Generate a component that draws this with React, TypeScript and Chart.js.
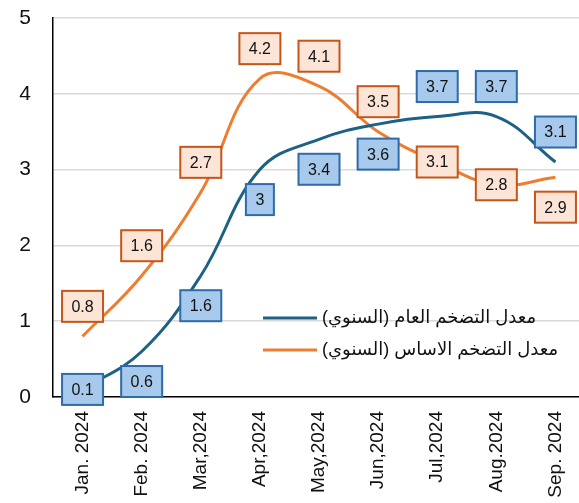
import React, { useEffect, useRef } from 'react';
import { Chart, registerables } from 'chart.js';

Chart.register(...registerables);

const categories = ['Jan. 2024', 'Feb. 2024', 'Mar,2024', 'Apr,2024', 'May,2024', 'Jun,2024', 'Jul,2024', 'Aug.2024', 'Sep. 2024'];
const headline = [0.1, 0.6, 1.6, 3, 3.4, 3.6, 3.7, 3.7, 3.1];
const core = [0.8, 1.6, 2.7, 4.2, 4.1, 3.5, 3.1, 2.8, 2.9];
const headlineLabelPos = ['center', 'below', 'below', 'below', 'below', 'below', 'above', 'above', 'above'];
const coreLabelPos = ['above', 'above', 'above', 'above', 'above', 'above', 'center', 'center', 'below'];
const seriesNames = ['معدل التضخم العام (السنوي)', 'معدل التضخم الاساس (السنوي)'];
const yMin = 0;
const yMax = 5;
const yStep = 1;

const BLUE = '#1d6184';
const ORANGE = '#ed7d31';
const boxStyles = [
  { fill: '#a6c9ec', border: '#2e6ba8' },
  { fill: '#fce4d6', border: '#c5561a' },
];
const positions = [headlineLabelPos, coreLabelPos];
const FONT = '"Liberation Sans", Arial, "DejaVu Sans", sans-serif';

const labelPlugin = {
  id: 'boxLabels',
  afterDatasetsDraw(chart: any) {
    const ctx = chart.ctx;
    ctx.save();
    ctx.font = `16px ${FONT}`;
    chart.data.datasets.forEach((ds: any, i: number) => {
      const meta = chart.getDatasetMeta(i);
      const st = boxStyles[i];
      const pos = positions[i];
      meta.data.forEach((pt: any, j: number) => {
        const off = pos[j] === 'above' ? -30 : pos[j] === 'below' ? 30 : 0;
        const x = pt.x;
        const y = pt.y + off;
        const txt = String(ds.data[j]);
        const tw = ctx.measureText(txt).width;
        const w = Math.round(tw + 19);
        const h = 31;
        ctx.fillStyle = st.fill;
        ctx.fillRect(x - w / 2, y - h / 2, w, h);
        ctx.strokeStyle = st.border;
        ctx.lineWidth = 2;
        ctx.strokeRect(x - w / 2, y - h / 2, w, h);
        ctx.fillStyle = '#111';
        ctx.textAlign = 'center';
        ctx.textBaseline = 'middle';
        ctx.fillText(txt, x, y + 1);
      });
    });
    ctx.restore();
  },
};

const legendPlugin = {
  id: 'insideLegend',
  afterDraw(chart: any) {
    const ctx = chart.ctx;
    const colors = [BLUE, ORANGE];
    ctx.save();
    ctx.font = `18px ${FONT}`;
    ctx.direction = 'rtl';
    ctx.textAlign = 'left';
    ctx.textBaseline = 'middle';
    seriesNames.forEach((name, i) => {
      const y = 318 + i * 32;
      ctx.strokeStyle = colors[i];
      ctx.lineWidth = 3;
      ctx.beginPath();
      ctx.moveTo(263, y);
      ctx.lineTo(317, y);
      ctx.stroke();
      ctx.fillStyle = '#111';
      ctx.fillText(name, 322, y);
    });
    ctx.restore();
  },
};

export default function App() {
  const ref = useRef<HTMLCanvasElement>(null);
  useEffect(() => {
    const chart = new Chart(ref.current as HTMLCanvasElement, {
      type: 'line',
      data: {
        labels: categories,
        datasets: [
          { label: seriesNames[0], data: headline, borderColor: BLUE, borderWidth: 3, pointRadius: 0, tension: 0.4, fill: false },
          { label: seriesNames[1], data: core, borderColor: ORANGE, borderWidth: 3, pointRadius: 0, tension: 0.4, fill: false },
        ],
      },
      options: {
        responsive: false,
        animation: false,
        layout: { padding: { top: 18, right: 0, left: 0, bottom: 0 } },
        plugins: { legend: { display: false }, tooltip: { enabled: false } },
        scales: {
          x: {
            offset: true,
            grid: { display: false, drawTicks: false },
            border: { color: '#000', width: 1.5 },
            ticks: { color: '#111', font: { size: 19, family: FONT }, minRotation: 90, maxRotation: 90, padding: 14, autoSkip: false },
            afterFit: (s: any) => { s.height = 106; s.paddingLeft = 0; s.paddingRight = 0; },
          },
          y: {
            min: yMin,
            max: yMax,
            grid: { color: '#d9d9d9', lineWidth: 1.5, drawTicks: false },
            border: { color: '#000', width: 1.5 },
            ticks: { stepSize: yStep, color: '#111', font: { size: 21, family: FONT }, padding: 22 },
            afterFit: (s: any) => { s.width = 53; s.paddingTop = 0; s.paddingBottom = 0; },
          },
        },
      },
      plugins: [labelPlugin, legendPlugin],
    });
    return () => chart.destroy();
  }, []);
  return (
    <div style={{ position: 'absolute', left: 0, top: 0, width: 579, height: 503, overflow: 'hidden', background: '#fff' }}>
      <canvas ref={ref} width={585} height={503} style={{ display: 'block' }} />
    </div>
  );
}
